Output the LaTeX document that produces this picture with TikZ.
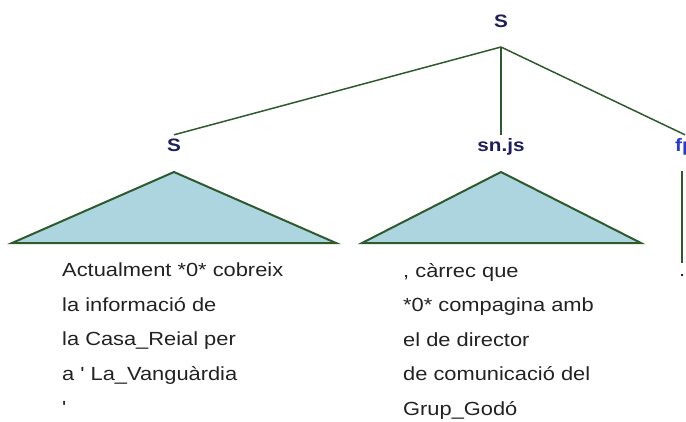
\documentclass[tikz,border=0pt]{standalone}
\usepackage{fontspec}
\setmainfont{Liberation Sans}
\newfontfamily\treefont[FakeStretch=1.15]{Liberation Sans}
\usepackage{xcolor}
\definecolor{treegreen}{HTML}{2E5A2E}
\definecolor{roofblue}{HTML}{ADD5E0}
\definecolor{catnavy}{HTML}{1F1F5C}
\definecolor{catblue}{HTML}{2B3BD0}
\definecolor{leafgray}{HTML}{222222}
\usepackage{tikz}
\usetikzlibrary{positioning}

\begin{document}
\begin{tikzpicture}[x=1pt, y=-1pt,
  cat/.style={font=\treefont\bfseries\fontsize{18}{20}\selectfont, text=catnavy,
    inner sep=0pt, minimum height=24pt, text height=13pt, text depth=4pt},
  leaf/.style={font=\treefont\fontsize{19}{34.5}\selectfont, text=leafgray,
    inner sep=0pt, align=left, anchor=north west},
  branch/.style={draw=treegreen, line width=1.5pt},
  roof/.style={draw=treegreen, line width=2pt, fill=roofblue, line join=miter}
]
\useasboundingbox (0,0) rectangle (686,421);
% Root
\node[cat] (root) at (501,23) {S};
\coordinate[below=24pt of root.center] (fork);
% Daughters
\node[cat] (catS)  at (174,147) {S};
\node[cat] (catsn) at (501,147) {sn.js};
\node[cat, text=catblue] (catfp) at (685,147) {fp};
\draw[branch] (fork) -- (catS.north);
\draw[branch] (fork) -- (catsn.north);
\draw[branch] (fork) -- (catfp.north);

% Roofs
\coordinate[below=25pt of catS.center] (roofS);
\coordinate[below=25pt of catsn.center] (roofsn);
\draw[roof] (roofS) -- ++(-162,71) -- ++(324,0) -- cycle;
\draw[roof] (roofsn) -- ++(-139,71) -- ++(279,0) -- cycle;

% Leaves
\node[leaf] (leafS) at (62,263)
  {Actualment *0* cobreix\\la informació de\\la Casa\_Reial per\\a ' La\_Vanguàrdia\\'};
\node[leaf] (leafsn) at (403,263)
  {, càrrec que\\{}*0* compagina amb\\el de director\\de comunicació del\\Grup\_Godó};
\node[leaf] (leaffp) at (679,263) {\vphantom{A}.};
\draw[branch, shorten <=12pt] (catfp.south -| leaffp.north) -- (leaffp.north);
\end{tikzpicture}
\end{document}
